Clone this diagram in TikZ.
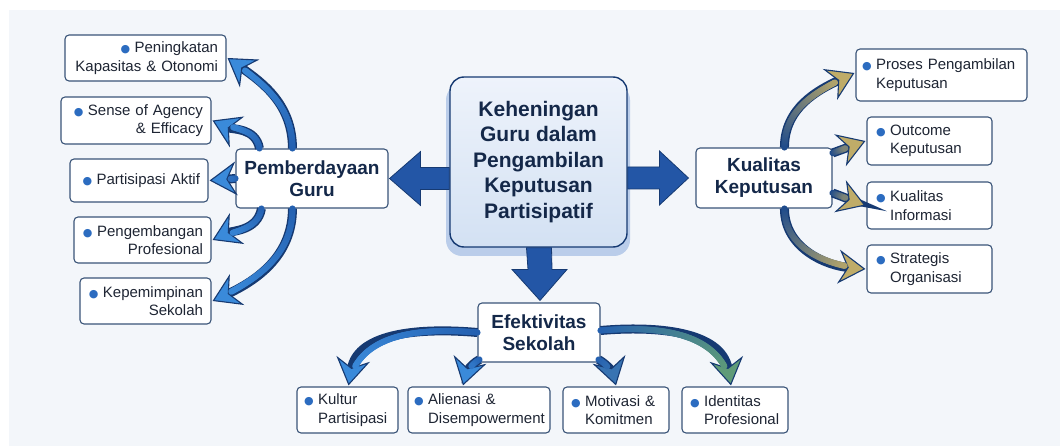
\documentclass[tikz,border=0pt]{standalone}
\usepackage{fontspec}
\setmainfont{Liberation Sans}
\newfontfamily\djv{DejaVu Sans}
\usetikzlibrary{arrows.meta,calc,decorations.markings}
\definecolor{bgc}{HTML}{F3F6FA}
\definecolor{boxline}{HTML}{3A5478}
\definecolor{txt}{HTML}{1E2533}
\definecolor{headtxt}{HTML}{142849}
\definecolor{bulc}{HTML}{2C6CC0}
\definecolor{aline}{HTML}{163A72}
\definecolor{bigfill}{HTML}{2356A6}
\definecolor{shadowc}{HTML}{BACDEA}
\definecolor{ctop}{HTML}{EEF3FB}
\definecolor{cbot}{HTML}{D3E1F3}
\definecolor{lbA}{HTML}{2460B0}
\definecolor{lbB}{HTML}{3A8ADA}
\definecolor{rA}{HTML}{1D4A8C}
\definecolor{rB}{HTML}{BFAC68}
\definecolor{gB}{HTML}{5F9B78}
\definecolor{mB}{HTML}{3873B2}
\newcommand\bul{{\color{bulc}\djv\fontsize{11}{11}\selectfont●}\hspace{4.5pt}}
\newcommand\hbul{\hphantom{\bul}}
\newcommand\fatarrow[3]{%
  \draw[aline, line width=9pt, shorten >=17pt] #1;
  \draw[aline, line width=0.6pt, -{Stealth[length=27pt,width=34pt,inset=9pt,fill=#3,line width=1.1pt]}] #1;
  \path[decorate, decoration={markings, mark=between positions 0 and 1 step 0.8pt with {%
      \pgfmathsetmacro\dd{\pgfkeysvalueof{/pgf/decoration/mark info/distance from start}}%
      \pgfmathsetmacro\ok{(\dd < \pgfdecoratedpathlength-21) ? 1 : 0}%
      \ifdim\ok pt>0.5pt
      \pgfmathsetmacro\pc{min(100,100*\dd/(\pgfdecoratedpathlength-12))}%
      \colorlet{mixc}{#3!\pc!#2}%
      \fill[mixc] (0,0) circle (3.1pt);%
      \fi}}] #1;
}
\begin{document}
\begin{tikzpicture}[x=1pt,y=1pt,
  box/.style={draw=boxline, fill=white, rounded corners=4pt, line width=1.1pt, inner sep=0pt,
    font=\fontsize{15}{18.5}\selectfont, text=txt},
  lbox/.style={box, align=right},
  rbox/.style={box, align=left},
  head/.style={box, align=center, font=\fontsize{19}{22}\selectfont\bfseries, text=headtxt},
  bigarrow/.style={fill=bigfill, draw=aline, line width=0.8pt, line join=miter}]
\useasboundingbox (0,0) rectangle (1060,-446);
\fill[white] (0,0) rectangle (1060,-446);
\fill[bgc] (9,-10) rectangle (1060,-446);

% center shadow
\fill[shadowc, rounded corners=16pt] (446,-84) rectangle (630,-256);
\node[draw=aline, line width=1.4pt, rounded corners=14pt, top color=ctop, bottom color=cbot,
  minimum width=177pt, minimum height=170pt, inner sep=0pt, align=center,
  font=\fontsize{21}{25.5}\selectfont\bfseries, text=headtxt] (c) at (538.5,-162)
  {Keheningan\\Guru dalam\\Pengambilan\\Keputusan\\Partisipatif};

% main nodes
\node[head, minimum width=152pt, minimum height=59pt] (pg) at (312,-178.5) {Pemberdayaan\\Guru};
\node[head, minimum width=136pt, minimum height=60pt] (kq) at (764,-178) {Kualitas\\Keputusan};
\node[head, minimum width=122pt, minimum height=59pt] (ef) at (539,-332.5) {Efektivitas\\Sekolah};

% left boxes
\node[lbox, minimum width=161pt, minimum height=46pt, text width=145pt] (pen) at (145.5,-58) {\bul Peningkatan\\Kapasitas \& Otonomi};
\node[lbox, minimum width=150pt, minimum height=47pt, text width=134pt] (sen) at (136,-120.5) {\bul Sense of Agency\\\& Efficacy};
\node[lbox, minimum width=138pt, minimum height=43pt, text width=122pt] (par) at (139,-180.5) {\bul Partisipasi Aktif};
\node[lbox, minimum width=137pt, minimum height=46pt, text width=121pt] (pgb) at (142.5,-240) {\bul Pengembangan\\Profesional};
\node[lbox, minimum width=131pt, minimum height=46pt, text width=115pt] (kep) at (145.5,-301) {\bul Kepemimpinan\\Sekolah};

% right boxes
\node[rbox, minimum width=171pt, minimum height=52pt, text width=159pt] (pro) at (941.5,-75) {\bul Proses Pengambilan\\\hbul Keputusan};
\node[rbox, minimum width=125pt, minimum height=48pt, text width=107pt] (out) at (929.5,-141) {\bul Outcome\\\hbul Keputusan};
\node[rbox, minimum width=125pt, minimum height=47pt, text width=107pt] (inf) at (929.5,-205.5) {\bul Kualitas\\\hbul Informasi};
\node[rbox, minimum width=125pt, minimum height=48pt, text width=107pt] (str) at (929.5,-269) {\bul Strategis\\\hbul Organisasi};

% bottom boxes
\node[rbox, minimum width=101pt, minimum height=46pt, text width=87pt] (kul) at (347.5,-410) {\bul Kultur\\\hbul Partisipasi};
\node[rbox, minimum width=142pt, minimum height=46pt, text width=130pt] (ali) at (479,-410) {\bul Alienasi \&\\\hbul Disempowerment};
\node[rbox, minimum width=106pt, minimum height=46pt, text width=90pt] (mot) at (616,-410) {\bul Motivasi \&\\\hbul Komitmen};
\node[rbox, minimum width=106pt, minimum height=46pt, text width=90pt] (ide) at (735,-410) {\bul Identitas\\\hbul Profesional};

% big arrows from center
\filldraw[bigarrow] (c.west |- pg.east) ++(0,11) -- ($(pg.east)+(32,11)$) -- ($(pg.east)+(32,27)$)
  -- ($(pg.east)+(1,0)$) -- ($(pg.east)+(32,-27)$) -- ($(pg.east)+(32,-11)$) -- ($(c.west |- pg.east)+(0,-11)$) -- cycle;
\filldraw[bigarrow] (c.east |- kq.west) ++(0,11) -- ($(kq.west)+(-36,11)$) -- ($(kq.west)+(-36,27)$)
  -- ($(kq.west)+(-7,0)$) -- ($(kq.west)+(-36,-27)$) -- ($(kq.west)+(-36,-11)$) -- ($(c.east |- kq.west)+(0,-11)$) -- cycle;
\filldraw[bigarrow] ($(c.south)+(-12,0)$) -- ($(ef.north)+(-11,33)$) -- ($(ef.north)+(-27,33)$)
  -- ($(ef.north)+(1,2)$) -- ($(ef.north)+(28,33)$) -- ($(ef.north)+(13,33)$) -- ($(c.south)+(13,0)$) -- cycle;

% left curved arrows
\fatarrow{($(pg.north west)+(57,0)$) to[out=90,in=-35] ($(pen.east)+(1,0)$)}{lbA}{lbB}
\fatarrow{($(pg.north west)+(24,0)$) to[out=100,in=-25] ($(sen.east)+(1,0)$)}{lbA}{lbB}
\fatarrow{(pg.west) -- ($(par.east)+(1,0)$)}{lbA}{lbB}
\fatarrow{($(pg.south west)+(26,0)$) to[out=-100,in=25] ($(pgb.east)+(1,0)$)}{lbA}{lbB}
\fatarrow{($(pg.south west)+(57,0)$) to[out=-90,in=25] ($(kep.east)+(1,0)$)}{lbA}{lbB}

% right curved arrows
\fatarrow{($(kq.north west)+(89,0)$) to[out=90,in=-155] ($(pro.west)+(-1,2)$)}{rA}{rB}
\fatarrow{($(kq.east)+(0,25)$) to[out=20,in=-160] ($(out.west)+(-1,0)$)}{rA}{rB}
\fatarrow{($(kq.east)+(0,-15)$) to[out=-20,in=160] ($(inf.west)+(-1,0)$)}{rA}{rB}
\fatarrow{($(kq.south west)+(89,0)$) to[out=-90,in=175] ($(str.west)+(-1,0)$)}{rA}{rB}

% bottom curved arrows
\fatarrow{(ef.west) to[out=175,in=80] ($(kul.north)+(1,1)$)}{lbA}{lbB}
\fatarrow{($(ef.south west)+(2,3)$) to[out=-150,in=75] ($(ali.north)+(-16,1)$)}{lbA}{lbB}
\fatarrow{($(ef.south east)+(-2,3)$) to[out=-30,in=105] ($(mot.north)+(0,1)$)}{lbA}{mB}
\fatarrow{($(ef.east)+(0,2)$) to[out=5,in=100] ($(ide.north)+(-4,1)$)}{lbA}{gB}
\end{tikzpicture}
\end{document}
